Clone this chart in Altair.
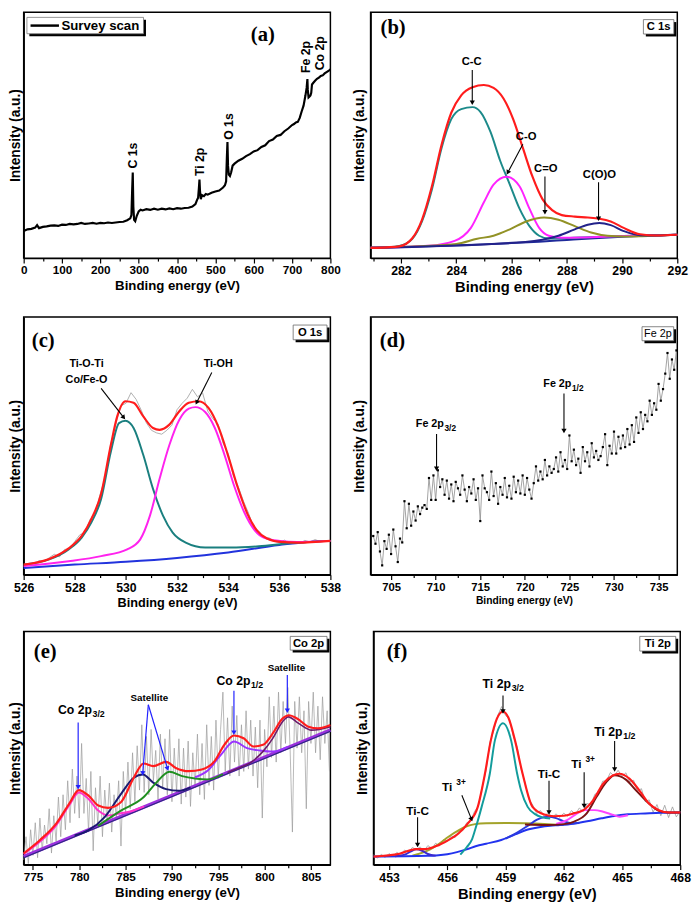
import math
import altair as alt
import pandas as pd

FONT = "Liberation Sans"
SERIF = "Liberation Serif"
W = 313

# ---------------- (a) survey ----------------
A_X = [0, 10, 20, 30, 35, 40, 50, 60, 70, 80, 90, 100, 110, 120, 130, 140, 150, 160, 170, 180,
       190, 200, 210, 220, 230, 240, 250, 260, 270, 278, 281, 283, 284.5, 286, 288, 291, 295, 300,
       305, 310, 320, 330, 340, 350, 360, 370, 380, 390, 400, 410, 420, 430, 440, 448, 452, 455,
       457, 458.5, 460, 462, 465, 470, 475, 480, 490, 500, 510, 520, 525, 528, 530, 531.5, 533,
       535, 538, 541, 545, 550, 560, 570, 580, 590, 600, 610, 620, 630, 640, 650, 660, 670, 680,
       690, 700, 705, 710, 715, 720, 725, 730, 735, 738, 740, 741, 743, 745, 748, 750, 752, 755,
       760, 765, 770, 775, 780, 785, 790, 795, 800]
A_Y = [11.0, 11.7, 11.9, 12.4, 13.4, 12.2, 12.7, 12.9, 13.2, 13.3, 13.1, 13.6, 13.5, 13.9, 13.7,
       13.9, 14.3, 13.9, 14.1, 14.3, 14.0, 14.3, 14.2, 14.5, 14.3, 14.5, 14.7, 14.8, 15.4, 16.2,
       17.5, 28.0, 34.8, 21.0, 15.6, 15.0, 17.2, 19.0, 19.7, 19.4, 19.9, 19.6, 20.1, 19.7, 20.1,
       19.8, 20.2, 19.9, 20.3, 20.1, 20.4, 20.5, 21.0, 22.0, 23.6, 24.6, 28.5, 31.9, 27.0, 24.0,
       25.6, 25.2, 26.1, 25.8, 26.6, 27.1, 27.5, 28.7, 29.6, 31.2, 41.0, 47.2, 37.5, 34.0, 33.4,
       34.8, 37.6, 38.4, 39.6, 40.4, 41.5, 42.3, 43.4, 43.9, 45.2, 45.9, 47.6, 48.2, 49.7, 50.1,
       51.6, 52.7, 54.1, 54.5, 55.2, 55.4, 57.0, 59.6, 62.0, 66.2, 69.2, 72.8, 68.5, 65.3, 65.6,
       66.1, 67.2, 70.6, 71.2, 72.1, 72.9, 73.4, 74.1, 74.3, 75.1, 75.6, 76.1, 76.8]
A_PEAK_TEXT = ["C 1s", "Ti 2p", "O 1s", "Fe 2p", "Co 2p"]
A_PEAK_X = [286.6, 460.2, 534.6, 737.4, 771.8]
A_PEAK_Y = [41.7, 39.1, 53.5, 81.8, 83.3]

# ---------------- (b) C 1s ----------------
B_BASE_X = [280.9, 282, 283, 284, 285, 286, 287, 288, 289, 290, 291, 292]
B_BASE_Y = [4.2, 4.5, 4.8, 5.2, 5.6, 6.1, 6.7, 7.4, 8.1, 8.7, 9.2, 9.5]
B_CC_X = [280.9, 281.5, 281.94, 282.41, 282.76, 283.12, 283.47, 283.82, 284.18, 284.59, 284.88,
          285.24, 285.59, 285.94, 286.29, 286.65, 287.0, 287.35, 287.8, 288.5, 289.5, 290.5, 292]
B_CC_Y = [4.2, 4.4, 4.9, 7.8, 14.9, 27.9, 44.8, 56.5, 60.6, 61.4, 59.4, 51.3, 39.6, 29.9, 20.1,
          13.0, 9.1, 8.0, 8.1, 8.4, 8.8, 9.1, 9.5]
B_CO_X = [280.9, 283.0, 283.94, 284.53, 285.0, 285.35, 285.82, 286.29, 286.65, 287.0, 287.35,
          287.82, 288.5, 289.5, 290.5, 292]
B_CO_Y = [4.2, 5.0, 7.0, 12.3, 22.7, 29.9, 33.1, 29.2, 20.1, 12.3, 9.1, 8.3, 8.4, 8.8, 9.1, 9.5]
B_CEO_X = [280.9, 284.0, 284.76, 285.35, 285.94, 286.53, 287.18, 287.7, 288.29, 288.88, 289.47,
           290.06, 290.65, 291.3, 292]
B_CEO_Y = [4.2, 5.8, 7.9, 9.1, 11.7, 14.9, 16.5, 15.6, 13.0, 10.4, 9.1, 8.8, 8.9, 9.2, 9.5]
B_COO_X = [280.9, 286.5, 287.12, 287.7, 288.29, 288.76, 289.18, 289.59, 290.06, 290.65, 291.24, 292]
B_COO_Y = [4.2, 6.6, 7.5, 9.1, 11.7, 13.6, 14.3, 13.4, 11.0, 9.3, 9.2, 9.5]
B_FIT_X = [280.9, 281.5, 281.94, 282.41, 282.76, 283.12, 283.47, 283.82, 284.18, 284.59, 285.0,
           285.35, 285.71, 286.06, 286.41, 286.76, 287.12, 287.47, 287.82, 288.29, 288.76, 289.18,
           289.59, 290.06, 290.65, 291.24, 292]
B_FIT_Y = [4.2, 4.4, 4.8, 8.1, 15.6, 29.2, 46.1, 59.1, 66.2, 69.5, 70.4, 69.2, 64.9, 56.5, 44.8,
           33.1, 24.0, 19.5, 17.5, 16.9, 16.5, 16.0, 14.9, 12.3, 9.7, 9.2, 9.5]
B_LAB_T = ["C-C", "C-O", "C=O", "C(O)O"]
B_LAB_X = [284.56, 286.53, 287.24, 289.18]
B_LAB_Y = [79.9, 49.4, 36.1, 33.8]
B_ARROWS = [(284.58, 76.5, 284.58, 62.1), (286.41, 46.3, 285.82, 33.8),
            (287.21, 33.2, 287.21, 17.5), (289.15, 30.9, 289.15, 14.9)]

# ---------------- (c) O 1s ----------------
C_RAW_X = [526.0, 526.2, 526.4, 526.6, 526.8, 527.0, 527.2, 527.4, 527.6, 527.8,
           528.0, 528.2, 528.4, 528.6, 528.8, 529.0, 529.2, 529.4, 529.6, 529.8,
           530.0, 530.2, 530.4, 530.6, 530.8, 531.0, 531.2, 531.4, 531.6, 531.8,
           532.0, 532.2, 532.4, 532.6, 532.8, 533.0, 533.2, 533.4, 533.6, 533.8,
           534.0, 534.2, 534.4, 534.6, 534.8, 535.0, 535.2, 535.4, 535.6, 535.8,
           536.0, 536.2, 536.4, 536.6, 536.8, 537.0, 537.2, 537.4, 537.6, 537.8, 538.0]
C_RAW_Y = [3.2, 4.0, 3.6, 5.5, 5.0, 6.6, 7.9, 6.9, 9.8, 10.0,
           12.9, 15.5, 16.4, 21.5, 24.2, 31.5, 38.0, 50.5, 58.2, 65.5,
           66.5, 70.6, 68.0, 63.8, 58.9, 56.0, 55.0, 54.5, 56.0, 58.0,
           64.0, 66.5, 68.5, 71.9, 69.0, 70.5, 63.5, 60.5, 58.5, 51.0,
           47.0, 38.5, 34.0, 28.5, 23.8, 18.2, 16.9, 14.4, 14.3, 13.0,
           12.5, 13.4, 12.1, 12.8, 12.2, 13.3, 12.7, 13.6, 12.9, 13.2, 13.1]
C_BASE_X = [526, 528, 530, 532, 534, 536, 537, 538]
C_BASE_Y = [2.6, 3.9, 5.0, 6.5, 8.6, 11.5, 12.6, 13.1]
C_TEAL_X = [526, 527, 527.76, 528.27, 528.65, 529.03, 529.41, 529.73, 529.98, 530.3, 530.68,
            531.06, 531.45, 531.83, 532.34, 533.1, 534.12, 535.2, 536.4, 538]
C_TEAL_Y = [3.9, 5.9, 9.8, 14.4, 20.3, 29.4, 47.7, 58.8, 59.7, 56.9, 46.4, 33.3, 22.9, 16.3,
            12.4, 10.5, 10.5, 11.0, 12.2, 13.1]
C_MAG_X = [526, 527.76, 529.03, 530.05, 530.56, 530.94, 531.32, 531.7, 532.09, 532.46, 532.72,
           533.1, 533.48, 533.86, 534.25, 534.63, 535.01, 535.39, 536.03, 536.7, 538]
C_MAG_Y = [3.3, 5.2, 7.2, 9.8, 13.7, 22.9, 37.3, 50.3, 60.1, 64.4, 65.0, 63.1, 56.9, 46.4, 34.0,
           24.2, 17.6, 14.4, 13.1, 12.7, 13.1]
C_FIT_X = [526, 527, 527.76, 528.27, 528.65, 529.03, 529.41, 529.66, 529.98, 530.3, 530.68,
           531.06, 531.32, 531.7, 532.09, 532.46, 532.85, 533.23, 533.61, 533.99, 534.37, 534.76,
           535.14, 535.52, 536.03, 536.7, 538]
C_FIT_Y = [3.9, 6.1, 10.2, 15.0, 21.6, 31.4, 50.3, 61.4, 67.3, 66.7, 61.4, 56.9, 56.2, 58.2, 63.4,
           66.7, 67.3, 64.7, 57.5, 46.4, 34.0, 23.5, 17.0, 14.0, 12.7, 12.4, 13.1]
C_LAB_T = ["Ti-O-Ti", "Co/Fe-O", "Ti-OH"]
C_LAB_X = [528.46, 528.46, 533.61]
C_LAB_Y = [81.7, 75.4, 81.7]
C_ARROWS = [(529.03, 72.3, 529.98, 60.1), (533.36, 78.4, 532.72, 65.8)]

# ---------------- (d) Fe 2p ----------------
D_X = [703.0, 703.25, 703.5, 703.75, 704.0, 704.25, 704.5, 704.75, 705.0, 705.25, 705.5, 705.75,
       706.0, 706.25, 706.5, 706.75, 707.0, 707.25, 707.5, 707.75, 708.0, 708.25, 708.5, 708.75,
       709.0, 709.25, 709.5, 709.75, 710.0, 710.25, 710.5, 710.75, 711.0, 711.25, 711.5, 711.75,
       712.0, 712.25, 712.5, 712.75, 713.0, 713.25, 713.5, 713.75, 714.0, 714.25, 714.5, 714.75,
       715.0, 715.25, 715.5, 715.75, 716.0, 716.25, 716.5, 716.75, 717.0, 717.25, 717.5, 717.75,
       718.0, 718.25, 718.5, 718.75, 719.0, 719.25, 719.5, 719.75, 720.0, 720.25, 720.5, 720.75,
       721.0, 721.25, 721.5, 721.75, 722.0, 722.25, 722.5, 722.75, 723.0, 723.25, 723.5, 723.75,
       724.0, 724.25, 724.5, 724.75, 725.0, 725.25, 725.5, 725.75, 726.0, 726.25, 726.5, 726.75,
       727.0, 727.25, 727.5, 727.75, 728.0, 728.25, 728.5, 728.75, 729.0, 729.25, 729.5, 729.75,
       730.0, 730.25, 730.5, 730.75, 731.0, 731.25, 731.5, 731.75, 732.0, 732.25, 732.5, 732.75,
       733.0, 733.25, 733.5, 733.75, 734.0, 734.25, 734.5, 734.75, 735.0, 735.25, 735.5, 735.75,
       736.0, 736.25, 736.5, 736.75, 737.0]
D_Y = [15.0, 12.0, 16.5, 9.0, 3.6, 13.0, 10.0, 15.5, 8.0, 17.5, 11.0, 4.9,
       14.0, 12.5, 28.5, 18.0, 27.5, 19.0, 24.5, 21.0, 26.5, 23.5, 26.0, 27.0,
       25.5, 37.5, 29.0, 38.5, 29.0, 40.5, 34.0, 37.0, 31.0, 36.5, 29.5, 35.0,
       28.5, 36.0, 33.5, 31.0, 38.5, 33.0, 28.5, 34.0, 31.5, 37.0, 29.0, 33.5,
       20.8, 38.5, 33.5, 32.0, 29.0, 40.0, 30.5, 35.5, 27.5, 34.0, 31.0, 37.5,
       30.0, 34.5, 29.5, 38.0, 32.0, 36.5, 31.5, 38.5, 31.0, 37.5, 33.0, 29.5,
       35.5, 42.0, 36.5, 40.0, 37.0, 44.5, 38.5, 42.0, 39.5, 41.0, 45.5, 40.0,
       47.5, 42.0, 44.5, 41.0, 54.0, 44.0, 48.5, 42.5, 45.0, 39.5, 49.5, 44.0,
       47.5, 42.0, 51.0, 45.5, 48.0, 44.5, 46.0, 49.5, 54.5, 42.5, 50.0, 47.0,
       55.5, 47.0, 53.5, 49.0, 54.0, 49.5, 56.5, 50.5, 58.0, 51.5, 61.0, 55.0,
       63.0, 56.5, 62.0, 59.5, 67.5, 62.0, 66.5, 64.0, 74.0, 67.5, 72.0, 78.0,
       86.0, 76.0, 83.5, 79.5, 87.0]
D_LABELS = [("Fe 2p", "3/2", 710.0, 58.3), ("Fe 2p", "1/2", 724.3, 73.8)]
D_ARROWS = [(710.1, 54.6, 710.1, 40.0), (724.39, 70.3, 724.39, 54.7)]

# ---------------- (e) Co 2p ----------------
E_X = [774.0, 774.25, 774.5, 774.75, 775.0, 775.25, 775.5, 775.75, 776.0, 776.25, 776.5, 776.75,
       777.0, 777.25, 777.5, 777.75, 778.0, 778.25, 778.5, 778.75, 779.0, 779.25, 779.5, 779.75,
       780.0, 780.25, 780.5, 780.75, 781.0, 781.25, 781.5, 781.75, 782.0, 782.25, 782.5, 782.75,
       783.0, 783.25, 783.5, 783.75, 784.0, 784.25, 784.5, 784.75, 785.0, 785.25, 785.5, 785.75,
       786.0, 786.25, 786.5, 786.75, 787.0, 787.25, 787.5, 787.75, 788.0, 788.25, 788.5, 788.75,
       789.0, 789.25, 789.5, 789.75, 790.0, 790.25, 790.5, 790.75, 791.0, 791.25, 791.5, 791.75,
       792.0, 792.25, 792.5, 792.75, 793.0, 793.25, 793.5, 793.75, 794.0, 794.25, 794.5, 794.75,
       795.0, 795.25, 795.5, 795.75, 796.0, 796.25, 796.5, 796.75, 797.0, 797.25, 797.5, 797.75,
       798.0, 798.25, 798.5, 798.75, 799.0, 799.25, 799.5, 799.75, 800.0, 800.25, 800.5, 800.75,
       801.0, 801.25, 801.5, 801.75, 802.0, 802.25, 802.5, 802.75, 803.0, 803.25, 803.5, 803.75,
       804.0, 804.25, 804.5, 804.75, 805.0, 805.25, 805.5, 805.75, 806.0, 806.25, 806.5, 806.75,
       807.0]
E_Y = [2, 12, 0.5, 15, 4, 18, 3, 20, 6, 17, 9, 24,
       5, 21, 10, 29, 12, 30, 15, 36, 18, 41, 22, 38,
       20, 52, 22, 37, 14, 40, 6, 33, 17, 38, 12, 32,
       18, 35, 14, 30, 20, 36, 8, 40, 22, 44, 24, 48,
       27, 51, 32, 60, 31, 55, 30, 58, 36, 49, 28, 56,
       33, 54, 30, 58, 27, 50, 31, 54, 26, 50, 29, 53,
       25, 48, 33, 56, 30, 52, 28, 60, 34, 55, 32, 62,
       37, 58, 74, 40, 63, 38, 68, 44, 64, 38, 60, 40,
       66, 41, 62, 38, 59, 33, 62, 20, 58, 42, 72, 46,
       68, 44, 74, 48, 70, 52, 76, 50, 14, 70, 50, 72,
       48, 66, 24, 70, 52, 74, 48, 68, 45, 72, 52, 66,
       40]
E_BASE_X = [774, 807.1]
E_BASE_Y = [3.5, 57.7]
E_BASE2_Y = [3.0, 57.2]
E_P32_X = [774.0, 775.77, 777.51, 778.9, 779.95, 781.0, 782.05, 783.1, 784.49, 785.5, 787.0]
E_P32_Y = [4.6, 9.9, 16.9, 25.4, 31.0, 28.2, 23.2, 21.1, 22.1, 22.8, 25.0]
E_S1_X = [779.5, 781.0, 782.74, 784.49, 785.88, 786.86, 787.98, 789.37, 790.77, 792.0]
E_S1_Y = [12.5, 14.8, 20.4, 30.3, 37.3, 38.7, 35.2, 32.4, 31.7, 33.2]
E_S2_X = [782.0, 784.49, 786.93, 788.32, 789.72, 791.11, 792.5, 793.9, 795.5]
E_S2_Y = [16.6, 23.2, 28.9, 35.2, 39.9, 38.0, 37.0, 36.6, 38.9]
E_P12_X = [792.5, 793.9, 795.3, 796.69, 798.1, 799.5, 800.9, 802.5]
E_P12_Y = [37.5, 40.5, 47.2, 52.8, 50.0, 49.0, 48.5, 50.5]
E_S3_X = [796.0, 797.5, 798.44, 799.83, 800.88, 801.93, 802.55, 803.67, 805.07, 807.1]
E_S3_Y = [39.5, 42.0, 43.7, 48.6, 54.2, 61.3, 63.4, 60.6, 57.7, 59.2]
E_FIT_X = [774.0, 775.77, 777.51, 778.9, 779.95, 781.0, 782.05, 783.1, 784.49, 785.88, 786.93,
           787.98, 789.37, 790.42, 791.81, 793.21, 794.6, 795.65, 796.69, 797.74, 798.79, 799.83,
           800.88, 801.93, 802.62, 803.5, 804.72, 805.76, 807.1]
E_FIT_Y = [4.9, 10.6, 17.6, 26.1, 32.0, 29.6, 25.4, 24.4, 26.8, 37.3, 43.4, 42.3, 44.1, 41.5, 40.1,
           40.8, 44.4, 51.4, 55.4, 54.2, 50.7, 51.4, 56.3, 62.7, 64.1, 62.7, 59.2, 58.5, 59.9]
E_LABELS = [("Co 2p", "3/2", 780.2, 66.2), ("Co 2p", "1/2", 797.3, 78.9)]
E_SAT_X = [787.56, 802.35]
E_SAT_Y = [71.4, 84.5]
E_ARROWS = [(779.88, 61.0, 779.88, 32.0), (787.45, 68.6, 786.82, 38.0), (787.45, 68.6, 789.61, 40.1),
            (796.69, 74.6, 796.69, 55.4), (802.45, 81.3, 802.45, 64.8)]

# ---------------- (f) Ti 2p ----------------
F_RAW_X = [452.2, 452.4, 452.6, 452.8, 453.0, 453.2, 453.4, 453.6, 453.8, 454.0,
           454.2, 454.4, 454.6, 454.8, 455.0, 455.2, 455.4, 455.6, 455.8, 456.0,
           456.2, 456.4, 456.6, 456.8, 457.0, 457.2, 457.4, 457.6, 457.8, 458.0,
           458.2, 458.4, 458.6, 458.8, 459.0, 459.2, 459.4, 459.6, 459.8, 460.0,
           460.2, 460.4, 460.6, 460.8, 461.0, 461.2, 461.4, 461.6, 461.8, 462.0,
           462.2, 462.4, 462.6, 462.8, 463.0, 463.2, 463.4, 463.6, 463.8, 464.0,
           464.2, 464.4, 464.6, 464.8, 465.0, 465.2, 465.4, 465.6, 465.8, 466.0,
           466.2, 466.4, 466.6, 466.8, 467.0, 467.2, 467.4, 467.6, 467.8, 468.0]
F_RAW_Y = [4.2, 2.8, 4.5, 3.1, 4.8, 3.4, 5.3, 4.2, 6.3, 5.4,
           7.4, 6.5, 7.6, 6.0, 8.2, 7.0, 9.2, 8.1, 10.8, 10.0,
           12.4, 11.6, 14.5, 14.6, 18.0, 18.7, 22.8, 25.0, 33.4, 40.6,
           52.6, 57.6, 64.0, 67.8, 64.0, 62.4, 55.2, 50.4, 41.2, 35.4,
           28.2, 25.6, 22.0, 23.2, 20.8, 22.4, 20.2, 21.8, 20.3, 22.1,
           20.8, 23.2, 21.6, 24.3, 22.8, 26.2, 25.8, 30.2, 31.0, 35.8,
           36.0, 39.5, 38.0, 40.5, 37.8, 39.4, 35.5, 36.2, 31.5, 32.6,
           27.0, 27.8, 22.5, 25.8, 21.0, 25.5, 20.2, 24.8, 20.5, 23.0]
F_BASE_X = [452.2, 455.0, 456.0, 456.5, 457.0, 457.5, 458.0, 458.78, 459.5, 460.2, 460.8, 461.3,
            461.8, 462.5, 463.2, 463.95, 464.6, 465.3, 466.2, 467.0, 468.0]
F_BASE_Y = [3.5, 3.8, 4.5, 5.4, 6.6, 8.0, 9.0, 10.6, 13.0, 15.2, 16.2, 16.7, 17.0, 17.6, 18.6,
            19.9, 20.9, 21.6, 22.0, 22.3, 22.4]
F_TIC1_X = [453.3, 453.8, 454.1, 454.4, 454.7, 455.0, 455.4]
F_TIC1_Y = [3.6, 4.3, 5.6, 6.6, 6.0, 4.6, 3.9]
F_TIC2_X = [459.0, 459.6, 460.2, 460.6, 460.98, 461.24, 461.6, 462.0, 462.4, 462.8]
F_TIC2_Y = [11.2, 13.8, 17.0, 19.2, 20.4, 20.6, 20.0, 18.6, 17.8, 17.9]
F_T32_X = [456.67, 457.0, 457.26, 457.43, 457.77, 458.19, 458.45, 458.87, 459.29, 459.6, 459.8,
           460.14, 460.5, 460.9, 461.3]
F_T32_Y = [4.3, 7.5, 10.6, 14.9, 24.8, 39.0, 53.2, 60.7, 53.2, 39.0, 31.9, 24.8, 21.8, 20.3, 19.8]
F_TI3A_X = [454.2, 454.9, 455.5, 456.08, 456.6, 457.0, 457.43, 458.0, 459.0, 460.0, 461.0, 462.0]
F_TI3A_Y = [3.9, 5.7, 8.5, 12.1, 14.8, 16.5, 17.4, 17.8, 17.9, 17.8, 17.5, 17.0]
F_TI3B_X = [461.6, 462.17, 462.6, 463.1, 463.6, 464.03, 464.5, 464.87, 465.3]
F_TI3B_Y = [17.5, 19.1, 21.5, 23.4, 23.4, 22.7, 21.5, 20.6, 21.2]
F_T12_X = [460.0, 461.15, 462.0, 462.5, 463.18, 463.69, 464.2, 464.62, 465.2, 465.72, 466.39,
           466.9, 467.4, 468.0]
F_T12_Y = [17.2, 17.0, 17.4, 18.4, 22.0, 29.1, 35.5, 38.3, 36.5, 31.9, 26.2, 23.1, 22.4, 22.4]
F_FIT_X = [452.2, 453.54, 454.39, 454.89, 455.57, 456.25, 456.59, 457.06, 457.57, 457.94, 458.24,
           458.55, 458.87, 459.15, 459.49, 459.88, 460.39, 461.0, 461.5, 462.0, 462.5, 463.01,
           463.52, 464.03, 464.53, 464.87, 465.38, 465.89, 466.39, 466.9, 467.41, 468.0]
F_FIT_Y = [3.5, 4.7, 6.7, 6.7, 8.5, 11.5, 13.5, 17.7, 24.8, 39.0, 53.2, 62.5, 65.7, 63.0, 53.2,
           39.0, 24.8, 21.5, 20.8, 21.0, 22.0, 23.4, 27.7, 34.8, 38.3, 39.0, 36.9, 31.9, 26.2,
           23.4, 22.4, 22.4]
F_SUB_LABELS = [("Ti 2p", "3/2", 458.87, 77.3), ("Ti 2p", "1/2", 464.62, 56.8)]
F_SUP_LABELS = [("Ti ", "3+", 456.33, 33.3), ("Ti ", "3+", 462.98, 43.3)]
F_TIC_T = ["Ti-C", "Ti-C"]
F_TIC_X = [454.47, 461.24]
F_TIC_Y = [23.1, 39.0]
F_ARROWS = [(458.87, 72.6, 458.87, 64.5), (464.62, 53.0, 464.62, 39.6), (456.75, 29.8, 457.3, 18.4),
            (463.05, 39.6, 463.05, 24.0), (454.47, 20.4, 454.47, 7.3), (461.24, 36.0, 461.24, 21.2)]

for a, b in [(A_X, A_Y), (C_RAW_X, C_RAW_Y), (D_X, D_Y), (E_X, E_Y), (F_RAW_X, F_RAW_Y),
             (B_CC_X, B_CC_Y), (B_FIT_X, B_FIT_Y), (C_FIT_X, C_FIT_Y), (E_FIT_X, E_FIT_Y),
             (F_FIT_X, F_FIT_Y), (F_T32_X, F_T32_Y), (F_T12_X, F_T12_Y)]:
    assert len(a) == len(b), (len(a), len(b))

# ---------------- panel geometry ----------------
PA = {"xdom": [0, 800], "H": 251, "major": [0, 100, 200, 300, 400, 500, 600, 700, 800],
      "minor": [50, 150, 250, 350, 450, 550, 650, 750], "lfs": 12, "tfs": 13.5, "ytp": 1}
PB = {"xdom": [280.9, 292], "H": 251, "major": [282, 284, 286, 288, 290, 292],
      "minor": [281, 283, 285, 287, 289, 291], "lfs": 12.5, "tfs": 15, "ytp": 4}
PC = {"xdom": [526, 538], "H": 263, "major": [526, 528, 530, 532, 534, 536, 538],
      "minor": [527, 529, 531, 533, 535, 537], "lfs": 12.5, "tfs": 13, "ytp": 1}
PD = {"xdom": [702.7, 737.1], "H": 263, "major": [705, 710, 715, 720, 725, 730, 735],
      "minor": [707.5, 712.5, 717.5, 722.5, 727.5, 732.5], "lfs": 11.5, "tfs": 10.5, "ytp": 4}
PE = {"xdom": [774, 807.1], "H": 238, "major": [775, 780, 785, 790, 795, 800, 805],
      "minor": [777.5, 782.5, 787.5, 792.5, 797.5, 802.5], "lfs": 12, "tfs": 13.5, "ytp": 1}
PF = {"xdom": [452.2, 468], "H": 238, "major": [453, 456, 459, 462, 465, 468],
      "minor": [454.5, 457.5, 460.5, 463.5, 466.5], "lfs": 12.5, "tfs": 15, "ytp": 4}

AW = {' ': 278, '(': 333, ')': 333, '+': 584, '-': 333, '/': 278, 'C': 722, 'F': 611, 'T': 611,
      'e': 556, 'i': 278, 'o': 611, 'p': 611}


def tw(s, fs):
    return sum(AW.get(c, 556) for c in s) * fs / 1000.0


def X(P):
    maj = P["major"]
    test = "indexof(%s, datum.value) >= 0" % str(maj)
    return alt.X("x:Q", scale=alt.Scale(domain=P["xdom"], nice=False, zero=False),
                 axis=alt.Axis(values=sorted(maj + P["minor"]), title="Binding energy (eV)",
                               labelExpr=test + " ? format(datum.value, 'd') : ''",
                               tickSize={"condition": {"test": test, "value": 5}, "value": 3},
                               labelFontSize=P["lfs"], titleFontSize=P["tfs"],
                               labelOverlap=False, labelFlush=False, grid=False,
                               labelPadding=2, titlePadding=3))


def Y(P):
    return alt.Y("y:Q", scale=alt.Scale(domain=[0, 100], nice=False, zero=False),
                 axis=alt.Axis(title="Intensity (a.u.)", labels=False, ticks=False, grid=False,
                               titleFontSize=14, titlePadding=P["ytp"]))


def line(P, xs, ys, color, w=2.0, interp="monotone"):
    df = pd.DataFrame({"x": xs, "y": ys})
    return alt.Chart(df).mark_line(color=color, strokeWidth=w, interpolate=interp).encode(
        x=X(P), y=Y(P))


def texts(P, xs, ys, ts, size=11, angle=0, align="center", color="black"):
    df = pd.DataFrame({"x": xs, "y": ys, "t": ts})
    kw = dict(font=FONT, fontSize=size, fontWeight="bold", align=align, baseline="middle", color=color)
    if angle:
        kw["angle"] = angle
    return alt.Chart(df).mark_text(**kw).encode(x=X(P), y=Y(P), text="t:N")


def to_px(P, x, y):
    x0, x1 = P["xdom"]
    return (x - x0) / (x1 - x0) * W, (1 - y / 100.0) * P["H"]


def from_px(P, px, py):
    x0, x1 = P["xdom"]
    return x0 + px / W * (x1 - x0), (1 - py / P["H"]) * 100.0


def arrows(P, segs, color="black", w=1.1, head=28):
    rr, hh = [], []
    for (xa, ya, xb, yb) in segs:
        pa = to_px(P, xa, ya)
        pb = to_px(P, xb, yb)
        dx, dy = pb[0] - pa[0], pb[1] - pa[1]
        L = math.hypot(dx, dy)
        ux, uy = dx / L, dy / L
        hx, hy = from_px(P, pb[0] - ux * 2.8, pb[1] - uy * 2.8)
        rx, ry = from_px(P, pb[0] - ux * 4.0, pb[1] - uy * 4.0)
        rr.append({"x": xa, "y": ya, "x2": rx, "y2": ry})
        hh.append({"x": hx, "y": hy, "a": math.degrees(math.atan2(-ux, uy)) % 360})
    rule = alt.Chart(pd.DataFrame(rr)).mark_rule(color=color, strokeWidth=w).encode(
        x=X(P), y=Y(P), x2="x2:Q", y2="y2:Q")
    hd = alt.Chart(pd.DataFrame(hh)).mark_point(shape="triangle-down", filled=True, color=color,
                                                 size=head, opacity=1).encode(
        x=X(P), y=Y(P), angle=alt.Angle("a:Q", scale=None))
    return [rule, hd]


def script_labels(P, items, fs, sfs, kind="sub", color="black"):
    k = (P["xdom"][1] - P["xdom"][0]) / W
    mains, subs = [], []
    for (m, s, cx, cy) in items:
        wm = tw(m, fs)
        ws = tw(s, sfs)
        left = -(wm + ws) / 2.0
        mains.append({"x": cx + left * k, "y": cy, "t": m})
        dy = 4.0 if kind == "sub" else -5.0
        subs.append({"x": cx + (left + wm + 0.5) * k, "y": cy - dy * 100.0 / P["H"], "t": s})
    l1 = alt.Chart(pd.DataFrame(mains)).mark_text(
        font=FONT, fontSize=fs, fontWeight="bold", align="left", baseline="middle", color=color
    ).encode(x=X(P), y=Y(P), text="t:N")
    l2 = alt.Chart(pd.DataFrame(subs)).mark_text(
        font=FONT, fontSize=sfs, fontWeight="bold", align="left", baseline="middle", color=color
    ).encode(x=X(P), y=Y(P), text="t:N")
    return [l1, l2]


ONE = pd.DataFrame({"k": [0]})


def box(x0, y0, x1, y1, label, fs=11.5, weight="bold"):
    sh = alt.Chart(ONE).mark_rect(color="black").encode(
        x=alt.value(x0 + 2.5), x2=alt.value(x1 + 2.5), y=alt.value(y0 + 2.5), y2=alt.value(y1 + 2.5))
    rc = alt.Chart(ONE).mark_rect(fill="white", stroke="#666666", strokeWidth=0.8).encode(
        x=alt.value(x0), x2=alt.value(x1), y=alt.value(y0), y2=alt.value(y1))
    tx = alt.Chart(ONE).mark_text(font=FONT, fontSize=fs, fontWeight=weight, align="center",
                                  baseline="middle", color="black").encode(
        x=alt.value((x0 + x1) / 2.0), y=alt.value((y0 + y1) / 2.0 + 0.5), text=alt.value(label))
    return [sh, rc, tx]


def letter(s, x, y):
    return alt.Chart(ONE).mark_text(font=SERIF, fontSize=21, fontWeight="bold", align="center",
                                    baseline="middle", color="black").encode(
        x=alt.value(x), y=alt.value(y), text=alt.value(s))


def panel(P, layers):
    return alt.layer(*layers).properties(width=W, height=P["H"])


RED = "#ff1c1c"

# ---- (a)
leg = [
    alt.Chart(ONE).mark_rect(color="black").encode(x=alt.value(5.8), x2=alt.value(124.8),
                                                   y=alt.value(7.8), y2=alt.value(24.5)),
    alt.Chart(ONE).mark_rect(fill="white", stroke="#777777", strokeWidth=0.8).encode(
        x=alt.value(3.3), x2=alt.value(122.3), y=alt.value(5.3), y2=alt.value(22)),
    alt.Chart(ONE).mark_rule(color="black", strokeWidth=2.5).encode(
        x=alt.value(7), x2=alt.value(36), y=alt.value(13.7)),
    alt.Chart(ONE).mark_text(font=FONT, fontSize=13.5, fontWeight="bold", align="left",
                             baseline="middle", color="black").encode(
        x=alt.value(38.5), y=alt.value(14), text=alt.value("Survey scan")),
]
pa = panel(PA, [line(PA, A_X, A_Y, "black", 2.2, "linear")] + leg +
           [letter("(a)", 244, 23.5),
            texts(PA, A_PEAK_X, A_PEAK_Y, A_PEAK_TEXT, size=12.5, angle=270)])

# ---- (b)
pb = panel(PB, [line(PB, B_BASE_X, B_BASE_Y, "#1f2a9a"),
                line(PB, B_CC_X, B_CC_Y, "#1c8a8a"),
                line(PB, B_CO_X, B_CO_Y, "#ff22ff"),
                line(PB, B_CEO_X, B_CEO_Y, "#929226"),
                line(PB, B_COO_X, B_COO_Y, "#22228a"),
                line(PB, B_FIT_X, B_FIT_Y, RED, 2.2)]
           + arrows(PB, B_ARROWS)
           + [texts(PB, B_LAB_X, B_LAB_Y, B_LAB_T, size=11.5), letter("(b)", 23, 16)]
           + box(278.4, 7.6, 309.5, 22.3, "C 1s"))

# ---- (c)
pc = panel(PC, [line(PC, C_RAW_X, C_RAW_Y, "#9a9a9a", 0.8, "linear"),
                line(PC, C_BASE_X, C_BASE_Y, "#2233dd"),
                line(PC, C_TEAL_X, C_TEAL_Y, "#1a7f7f"),
                line(PC, C_MAG_X, C_MAG_Y, "#ff22ee"),
                line(PC, C_FIT_X, C_FIT_Y, RED, 2.2)]
           + arrows(PC, C_ARROWS)
           + [texts(PC, C_LAB_X, C_LAB_Y, C_LAB_T, size=11), letter("(c)", 20, 25)]
           + box(275, 8.3, 309.5, 23.3, "O 1s"))

# ---- (d)
dd = pd.DataFrame({"x": D_X, "y": D_Y})
pd_ = panel(PD, [line(PD, D_X, D_Y, "#8a8a8a", 0.8, "linear"),
                 alt.Chart(dd).mark_square(size=5, color="black", opacity=1).encode(x=X(PD), y=Y(PD))]
            + arrows(PD, D_ARROWS)
            + script_labels(PD, D_LABELS, 11, 8.5, "sub")
            + [letter("(d)", 22.3, 25)]
            + box(277, 10, 309.3, 24.3, "Fe 2p", fs=11, weight="normal"))

# ---- (e)
BLUE_ARROW = "#2020ff"
pe = panel(PE, [line(PE, E_X, E_Y, "#9a9a9a", 0.7, "linear"),
                line(PE, E_BASE_X, E_BASE_Y, "#9a30dd", 3.5, "linear"),
                line(PE, E_BASE_X, E_BASE2_Y, "#2a2a80", 1.2, "linear"),
                line(PE, E_P32_X, E_P32_Y, "#ff33cc"),
                line(PE, E_S1_X, E_S1_Y, "#1a1a70"),
                line(PE, E_S2_X, E_S2_Y, "#1f8f1f"),
                line(PE, E_P12_X, E_P12_Y, "#9933ff"),
                line(PE, E_S3_X, E_S3_Y, "#6b1a6b", 1.6),
                line(PE, E_FIT_X, E_FIT_Y, RED, 2.2)]
           + arrows(PE, E_ARROWS, color=BLUE_ARROW, w=1.2)
           + script_labels(PE, E_LABELS, 12.5, 9, "sub")
           + [texts(PE, E_SAT_X, E_SAT_Y, ["Satellite", "Satellite"], size=10),
              letter("(e)", 22, 21)]
           + box(272, 5, 309.5, 19, "Co 2p"))

# ---- (f)
pf = panel(PF, [line(PF, F_RAW_X, F_RAW_Y, "#9a9a9a", 0.8, "linear"),
                line(PF, F_TI3A_X, F_TI3A_Y, "#a3a32a"),
                line(PF, F_BASE_X, F_BASE_Y, "#2233ee"),
                line(PF, F_TIC1_X, F_TIC1_Y, "#3a2ad0"),
                line(PF, F_TIC2_X, F_TIC2_Y, "#2a3ae0"),
                line(PF, F_T32_X, F_T32_Y, "#139c9c"),
                line(PF, F_TI3B_X, F_TI3B_Y, "#ff44ff"),
                line(PF, F_T12_X, F_T12_Y, "#7a1414"),
                line(PF, F_FIT_X, F_FIT_Y, RED, 2.2)]
           + arrows(PF, F_ARROWS)
           + script_labels(PF, F_SUB_LABELS, 12.5, 9, "sub")
           + script_labels(PF, F_SUP_LABELS, 12, 8.5, "sup")
           + [texts(PF, F_TIC_X, F_TIC_Y, F_TIC_T, size=12), letter("(f)", 24, 21)]
           + box(271.7, 5, 308.4, 20, "Ti 2p"))

row1 = alt.hconcat(pa, pb, spacing=11)
row2 = alt.hconcat(pc, pd_, spacing=10)
row3 = alt.hconcat(pe, pf, spacing=17)

chart = alt.vconcat(row1, row2, row3, spacing=20,
                    padding={"left": 0, "top": -6, "right": 0, "bottom": 0}).configure_view(
    stroke="black", strokeWidth=1.5).configure_axis(
    domainColor="black", domainWidth=1.5, tickColor="black", tickWidth=1.2,
    labelFont=FONT, titleFont=FONT, labelFontWeight="bold", titleFontWeight="bold",
    labelColor="black", titleColor="black")

chart.save("out.html", embed_options={"renderer": "svg", "actions": False})
